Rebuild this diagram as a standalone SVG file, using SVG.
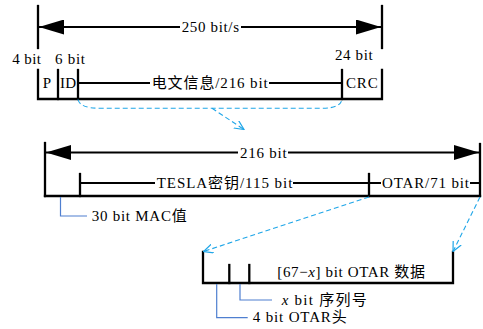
<svg xmlns="http://www.w3.org/2000/svg" width="483" height="329" viewBox="0 0 483 329">
<style>
  .ln { stroke: #000; stroke-width: 2.3; fill: none; stroke-linecap: square; }
  .thin { stroke: #000; stroke-width: 2; fill: none; }
  .t { font-family: "Liberation Serif", "Noto Sans CJK SC", serif; font-size: 15px; fill: #000; }
  .dash { stroke: #1FA6E8; stroke-width: 1.1; fill: none; stroke-dasharray: 5 3; }
  .call { stroke: #4F7FD0; stroke-width: 1.2; fill: none; }
</style>
<defs>
  <marker id="tri" viewBox="0 0 25 15" refX="25" refY="7.5" markerWidth="25" markerHeight="15" markerUnits="userSpaceOnUse" orient="auto-start-reverse">
    <path d="M0,0 L25,7.5 L0,15 Z" fill="#000"/>
  </marker>
  <marker id="vee" viewBox="0 0 10 10" refX="9.5" refY="5" markerWidth="10" markerHeight="10" markerUnits="userSpaceOnUse" orient="auto">
    <path d="M0,0.5 L9.5,5 L0,9.5" fill="none" stroke="#1FA6E8" stroke-width="1.2"/>
  </marker>
</defs>

<g id="rate-dimension">
  <line class="ln" x1="38" y1="6" x2="38" y2="48"/>
  <line class="ln" x1="382" y1="6" x2="382" y2="48"/>
  <path class="thin" d="M180,27 L39,27" marker-end="url(#tri)"/>
  <path class="thin" d="M241,27 L381,27" marker-end="url(#tri)"/>
  <text class="t" x="181.7" y="31.7" textLength="57.3">250 bit/s</text>
  <text class="t" x="12.3" y="64" textLength="28.7">4 bit</text>
  <text class="t" x="55" y="64" textLength="30">6 bit</text>
  <text class="t" x="335" y="60" textLength="37.7">24 bit</text>
</g>

<g id="message-frame">
  <path class="ln" d="M38,70 L38,99 L382,99 L382,70"/>
  <line class="ln" x1="58" y1="70" x2="58" y2="99"/>
  <line class="ln" x1="78" y1="70" x2="78" y2="99"/>
  <line class="ln" x1="342" y1="70" x2="342" y2="99"/>
  <line class="thin" x1="78" y1="83" x2="150" y2="83"/>
  <line class="thin" x1="269" y1="83" x2="342" y2="83"/>
  <text class="t" x="42.7" y="87.5" textLength="9">P</text>
  <text class="t" x="60" y="87.5" textLength="16">ID</text>
  <text class="t" x="151.7" y="87.5" textLength="116">电文信息/216 bit</text>
  <text class="t" x="346" y="87.5" textLength="31.7">CRC</text>
</g>

<g id="data-frame">
  <line class="ln" x1="45" y1="143" x2="45" y2="196"/>
  <line class="ln" x1="480" y1="144" x2="480" y2="196"/>
  <path class="ln" d="M45,196 L480,196"/>
  <path class="thin" d="M238,152.5 L46,152.5" marker-end="url(#tri)"/>
  <path class="thin" d="M288,152.5 L479,152.5" marker-end="url(#tri)"/>
  <text class="t" x="240" y="157.5" textLength="46.7">216 bit</text>
  <line class="ln" x1="80" y1="174" x2="80" y2="196"/>
  <line class="ln" x1="369" y1="174" x2="369" y2="196"/>
  <line class="thin" x1="80" y1="183" x2="155" y2="183"/>
  <line class="thin" x1="293" y1="183" x2="381" y2="183"/>
  <line class="thin" x1="470" y1="183" x2="480" y2="183"/>
  <text class="t" x="156.7" y="187.5" textLength="135.6">TESLA密钥/115 bit</text>
  <text class="t" x="382" y="187.5" textLength="87">OTAR/71 bit</text>
</g>

<g id="mac-label">
  <path class="call" d="M60.5,197 L60.5,216 L87,216"/>
  <text class="t" x="91.7" y="220.7" textLength="95">30 bit MAC值</text>
</g>

<g id="otar-frame">
  <path class="ln" d="M203,252 L203,283 L453,283 L453,252"/>
  <line class="ln" x1="229.3" y1="265" x2="229.3" y2="283"/>
  <line class="ln" x1="249.3" y1="265" x2="249.3" y2="283"/>
  <text class="t" x="277.3" y="277.3" textLength="147.7">[67−<tspan font-style="italic">x</tspan>] bit OTAR 数据</text>
</g>

<g id="seq-label">
  <path class="call" d="M240,284 L240,300 L272,300"/>
  <text class="t" x="281.7" y="304.5" textLength="85"><tspan font-style="italic">x</tspan> bit 序列号</text>
</g>

<g id="otar-head-label">
  <path class="call" d="M216.7,284 L216.7,317.7 L247.7,317.7"/>
  <text class="t" x="252.7" y="321.7" textLength="94">4 bit OTAR头</text>
</g>

<g id="connectors">
  <path class="dash" d="M78,99.5 Q80,108.3 100,108.3 L322,108.3 Q340,108.3 342,99.5"/>
  <path class="dash" d="M212,108.3 L244,129.5" marker-end="url(#vee)"/>
  <path class="dash" d="M369,197 L203.5,251.5" marker-end="url(#vee)"/>
  <path class="dash" d="M480,197 L453,251.5" marker-end="url(#vee)"/>
</g>
</svg>
